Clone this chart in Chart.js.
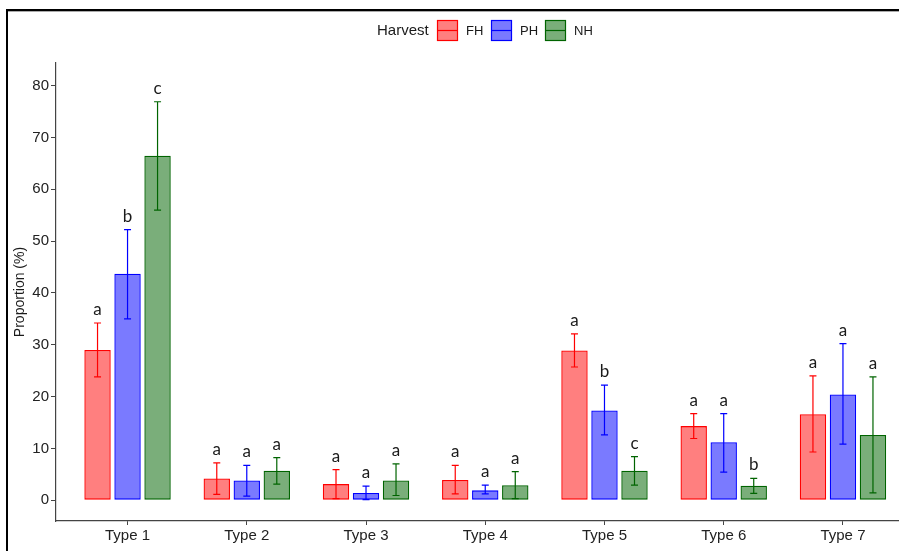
<!DOCTYPE html>
<html><head><meta charset="utf-8">
<script src="https://cdn.jsdelivr.net/npm/chart.js@4.4.1/dist/chart.umd.min.js"></script>
<style>
html,body{margin:0;padding:0;background:#fff;overflow:hidden}
#wrap{position:relative;width:899px;height:551px}
canvas{display:block}
</style></head><body>
<div id="wrap"><canvas id="c" width="899" height="551"></canvas></div>
<script>
const categories = ['Type 1','Type 2','Type 3','Type 4','Type 5','Type 6','Type 7'];
const seriesNames = ['FH','PH','NH'];
const legendTitle = 'Harvest';
const yTitle = 'Proportion (%)';
const yTicks = [0,10,20,30,40,50,60,70,80];

const fhMean = [29.0, 4.2, 3.1, 3.9, 28.9, 14.3, 16.6];
const fhLow  = [23.8, 1.1, 0.3, 1.2, 25.7, 11.9, 9.3];
const fhHigh = [34.2, 7.2, 5.9, 6.7, 32.1, 16.7, 24.0];
const fhLetters = ['a','a','a','a','a','a','a'];

const phMean = [43.7, 3.8, 1.4, 1.9, 17.3, 11.2, 20.4];
const phLow  = [35.0, 0.8, 0.1, 1.2, 12.6, 5.4, 10.8];
const phHigh = [52.2, 6.7, 2.7, 2.9, 22.2, 16.7, 30.2];
const phLetters = ['b','a','a','a','b','a','a'];

const nhMean = [66.5, 5.7, 3.8, 2.9, 5.7, 2.8, 12.6];
const nhLow  = [56.0, 3.1, 0.9, 0.3, 2.9, 1.3, 1.4];
const nhHigh = [76.9, 8.2, 7.0, 5.5, 8.4, 4.2, 23.8];
const nhLetters = ['c','a','a','a','c','b','a'];

const fills = ['rgba(255,0,0,0.5)','rgba(0,0,255,0.52)','rgba(0,100,0,0.52)'];
const lines = ['#ff0000','#0000ff','#006400'];

function mk(i, mean, lo, hi, letters){
  return {
    label: seriesNames[i],
    data: mean.map((v,k)=>({x:k, y:v})),
    backgroundColor: fills[i], borderColor: lines[i], borderWidth: 1.3,
    borderSkipped: false,
    errLow: lo, errHigh: hi, letters: letters
  };
}

const framePlugin = {
  id:'frame',
  beforeDraw(chart){
    const ctx = chart.ctx;
    ctx.save();
    ctx.fillStyle='#fff'; ctx.fillRect(0,0,chart.width,chart.height);
    ctx.fillStyle='#000';
    ctx.fillRect(6,9,chart.width-6,2);
    ctx.fillRect(6,9,2,chart.height-9);
    ctx.fillStyle='#aaa'; ctx.fillRect(8,11,chart.width-8,1);
    ctx.restore();
  }
};

const errPlugin = {
  id:'err',
  afterDatasetsDraw(chart){
    const ctx = chart.ctx, y = chart.scales.y;
    ctx.save();
    chart.data.datasets.forEach((ds,di)=>{
      const meta = chart.getDatasetMeta(di);
      meta.data.forEach((bar,i)=>{
        const x = bar.x;
        const yl = y.getPixelForValue(ds.errLow[i]);
        const yh = y.getPixelForValue(ds.errHigh[i]);
        ctx.strokeStyle = ds.borderColor; ctx.lineWidth = 1.2;
        ctx.beginPath();
        ctx.moveTo(x,yl); ctx.lineTo(x,yh);
        ctx.moveTo(x-3.5,yl); ctx.lineTo(x+3.5,yl);
        ctx.moveTo(x-3.5,yh); ctx.lineTo(x+3.5,yh);
        ctx.stroke();
        ctx.fillStyle='#1a1a1a'; ctx.font='17px Lato'; ctx.textAlign='center'; ctx.textBaseline='alphabetic';
        ctx.fillText(ds.letters[i], x, yh-8);
      });
    });
    ctx.restore();
  }
};

const legendPlugin = {
  id:'leg',
  afterDraw(chart){
    const ctx = chart.ctx;
    ctx.save();
    ctx.textBaseline='middle'; ctx.textAlign='left';
    ctx.fillStyle='#1a1a1a'; ctx.font='15px "Liberation Sans"';
    ctx.fillText(legendTitle, 377, 31);
    const boxX = [437, 491, 545];
    chart.data.datasets.forEach((ds,i)=>{
      const bx = boxX[i], by = 20, s = 21;
      ctx.fillStyle = ds.backgroundColor; ctx.fillRect(bx,by,s,s);
      ctx.strokeStyle = ds.borderColor; ctx.lineWidth = 1.2;
      ctx.strokeRect(bx+0.5,by+0.5,s-1,s-1);
      ctx.beginPath(); ctx.moveTo(bx+1,by+s/2); ctx.lineTo(bx+s-1,by+s/2); ctx.stroke();
      ctx.fillStyle='#1a1a1a'; ctx.font='13px "Liberation Sans"';
      ctx.fillText(ds.label, bx+29, 31);
    });
    ctx.restore();
  }
};

new Chart(document.getElementById('c'), {
  type:'bar',
  data:{ datasets:[
    mk(0, fhMean, fhLow, fhHigh, fhLetters),
    mk(1, phMean, phLow, phHigh, phLetters),
    mk(2, nhMean, nhLow, nhHigh, nhLetters)
  ]},
  options:{
    responsive:false, animation:false,
    devicePixelRatio:1,
    layout:{padding:{top:63,left:0,right:0,bottom:0}},
    datasets:{bar:{categoryPercentage:0.755, barPercentage:0.88}},
    plugins:{legend:{display:false}, tooltip:{enabled:false}},
    scales:{
      x:{
        type:'linear', min:-0.6, max:6.47, offset:false,
        afterBuildTicks: s => { s.ticks = categories.map((_,i)=>({value:i})); },
        afterFit: s => { s.height = 30; },
        ticks:{ callback:(v)=>categories[v], color:'#222', font:{family:'Liberation Sans', size:15}, padding:2, maxRotation:0, autoSkip:false },
        grid:{ display:true, drawOnChartArea:false, tickLength:4, tickColor:'#444', offset:false },
        border:{ display:true, color:'#444', width:1.2 }
      },
      y:{
        min:-4.02, max:84.38,
        afterBuildTicks: s => { s.ticks = yTicks.map(v=>({value:v})); },
        afterFit: s => { s.width = 56; },
        ticks:{ color:'#222', font:{family:'Liberation Sans', size:15}, padding:2 },
        grid:{ display:true, drawOnChartArea:false, tickLength:5, tickColor:'#444' },
        border:{ display:true, color:'#444', width:1.2 },
        title:{ display:true, text:yTitle, color:'#1a1a1a', font:{family:'Liberation Sans', size:14}, padding:{top:12,bottom:0} }
      }
    }
  },
  plugins:[framePlugin, errPlugin, legendPlugin]
});
</script>
</body></html>
